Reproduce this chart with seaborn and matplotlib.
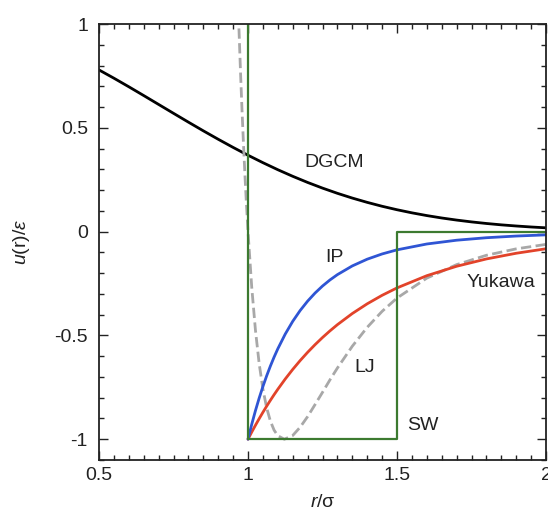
import numpy as np
import pandas as pd
import matplotlib
matplotlib.use("Agg")
import matplotlib.pyplot as plt
import seaborn as sns
from matplotlib.ticker import MultipleLocator

# ---- data ----
dgcm_r = [0.5, 0.55, 0.6, 0.65, 0.7, 0.75, 0.8, 0.85, 0.9, 0.95, 1.0, 1.05, 1.1, 1.15,
          1.2, 1.25, 1.3, 1.35, 1.4, 1.45, 1.5, 1.55, 1.6, 1.65, 1.7, 1.75, 1.8, 1.85,
          1.9, 1.95, 2.0]
dgcm_u = [0.7788, 0.7390, 0.6977, 0.6554, 0.6126, 0.5698, 0.5273, 0.4855, 0.4449, 0.4056,
          0.3679, 0.3321, 0.2982, 0.2665, 0.2369, 0.2096, 0.1845, 0.1616, 0.1409, 0.1221,
          0.1054, 0.0905, 0.0773, 0.0657, 0.0556, 0.0468, 0.0392, 0.0326, 0.0271, 0.0223,
          0.0183]

att_r = [1.0, 1.0125, 1.025, 1.0375, 1.05, 1.0625, 1.075, 1.0875, 1.10, 1.125, 1.15, 1.175,
         1.20, 1.225, 1.25, 1.275, 1.30, 1.35, 1.40, 1.45, 1.50, 1.60, 1.70, 1.80, 1.90, 2.0]
ip_u = [-1.0, -0.9282, -0.8623, -0.8018, -0.7462, -0.6951, -0.6480, -0.6045, -0.5645,
        -0.4933, -0.4323, -0.3800, -0.3349, -0.2959, -0.2621, -0.2328, -0.2072, -0.1652,
        -0.1328, -0.1076, -0.0878, -0.0596, -0.0414, -0.0294, -0.0213, -0.0156]
yukawa_u = [-1.0, -0.9657, -0.9327, -0.9009, -0.8704, -0.8410, -0.8128, -0.7855, -0.7594,
            -0.7098, -0.6638, -0.6211, -0.5814, -0.5445, -0.5101, -0.4781, -0.4482,
            -0.3945, -0.3477, -0.3068, -0.2711, -0.2123, -0.1669, -0.1316, -0.1042, -0.0826]

lj_r = [0.96, 0.965, 0.97, 0.975, 0.98, 0.985, 0.99, 0.995, 1.0, 1.0125, 1.025, 1.0375,
        1.05, 1.0625, 1.075, 1.0875, 1.10, 1.122, 1.15, 1.175, 1.20, 1.225, 1.25, 1.275,
        1.30, 1.35, 1.40, 1.45, 1.50, 1.60, 1.70, 1.80, 1.90, 2.0]
lj_u = [1.418, 1.180, 0.963, 0.764, 0.582, 0.416, 0.264, 0.126, 0.0, -0.267, -0.475,
        -0.636, -0.758, -0.848, -0.912, -0.956, -0.983, -1.0, -0.982, -0.942, -0.891,
        -0.833, -0.774, -0.714, -0.657, -0.552, -0.461, -0.384, -0.320, -0.224, -0.159,
        -0.114, -0.083, -0.0615]

sw_r = [1.0, 1.0, 1.5, 1.5, 2.0]
sw_u = [1.2, -1.0, -1.0, 0.0, 0.0]

labels = ["DGCM", "IP", "Yukawa", "LJ", "SW"]
label_pos = [(1.289, 0.335), (1.289, -0.123), (1.849, -0.243), (1.393, -0.653), (1.587, -0.933)]

x_ticks = [0.5, 1, 1.5, 2]
x_ticklabels = ["0.5", "1", "1.5", "2"]
y_ticks = [-1, -0.5, 0, 0.5, 1]
y_ticklabels = ["-1", "-0.5", "0", "0.5", "1"]

# ---- style ----
sns.set_style("ticks")
plt.rcParams["font.family"] = ["Liberation Sans", "DejaVu Sans"]
plt.rcParams["mathtext.fontset"] = "custom"
plt.rcParams["mathtext.rm"] = "Liberation Sans"
plt.rcParams["mathtext.it"] = "Liberation Sans:italic"

fig = plt.figure(figsize=(5.48, 5.16), dpi=100)
ax = fig.add_axes([99 / 548, 1 - 460 / 516, 447 / 548, 436 / 516])

lw = 2.0
common = dict(ax=ax, sort=False, estimator=None)
sns.lineplot(x=dgcm_r, y=dgcm_u, color="black", linewidth=lw, **common)
sns.lineplot(x=lj_r, y=lj_u, color="#a8a8a8", linewidth=lw,
             linestyle="--", dashes=(4.5, 3), **common)
sns.lineplot(x=att_r, y=yukawa_u, color="#e2432a", linewidth=lw, **common)
sns.lineplot(x=att_r, y=ip_u, color="#2f55d4", linewidth=lw, **common)
sns.lineplot(x=sw_r, y=sw_u, color="#3c7a30", linewidth=1.6, **common)

for t, (x, y) in zip(labels, label_pos):
    ax.text(x, y, t, fontsize=14, ha="center", va="center", color="#222222")

ax.set_xlim(0.5, 2.0)
ax.set_ylim(-1.1, 1.0)
ax.set_xticks(x_ticks)
ax.set_xticklabels(x_ticklabels)
ax.set_yticks(y_ticks)
ax.set_yticklabels(y_ticklabels)
ax.xaxis.set_minor_locator(MultipleLocator(0.05))
ax.yaxis.set_minor_locator(MultipleLocator(0.1))
ax.tick_params(which="both", direction="in", top=True, right=True, color="#222222",
               width=1.0)
ax.tick_params(which="major", length=6.5, labelsize=14, labelcolor="#222222")
ax.tick_params(axis="y", which="major", pad=8)
ax.tick_params(axis="x", which="major", pad=5)
ax.tick_params(which="minor", length=3.5)
for s in ax.spines.values():
    s.set_linewidth(1.3)
    s.set_color("#222222")
    s.set_visible(True)

ax.set_xlabel("$r$/σ", fontsize=14, color="#222222", labelpad=7)
ax.set_ylabel("$u$(r)/$\\varepsilon$", fontsize=14, color="#222222", labelpad=16)

fig.savefig("out.png", dpi=100)
